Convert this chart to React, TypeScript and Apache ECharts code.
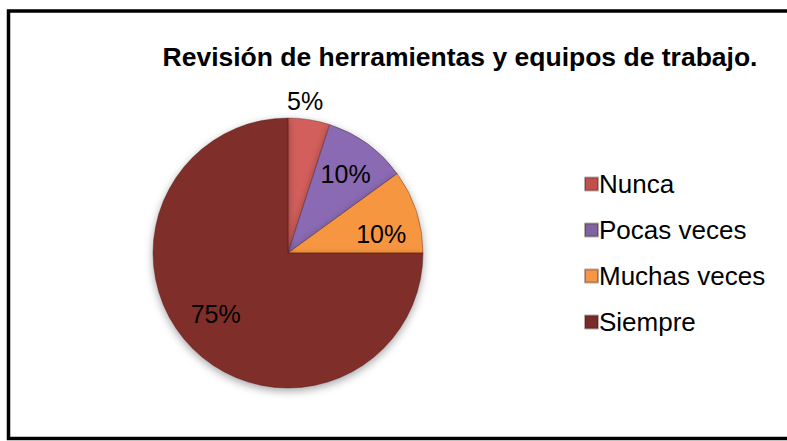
import React, { useEffect, useRef } from "react";
import * as echarts from "echarts";

const TITLE = "Revisión de herramientas y equipos de trabajo.";
const categories = ["Nunca", "Pocas veces", "Muchas veces", "Siempre"];
const values = [5, 10, 10, 75];
const colors = ["#D35F5B", "#8A6BB3", "#F7963F", "#7F2D2B"];
const legendColors = ["#C0504D", "#8064A2", "#F79646", "#772C2A"];

export default function App() {
  const ref = useRef<HTMLDivElement>(null);
  useEffect(() => {
    if (!ref.current) return;
    const chart = echarts.init(ref.current, undefined, { renderer: "svg" });
    const font = "Liberation Sans, Arial, sans-serif";
    const mainData = categories.map((name, i) => ({
      name,
      value: values[i],
      itemStyle: { color: colors[i] },
      label:
        i === 0
          ? { show: true, position: "outside", distance: 4, offset: [-28, -13] }
          : { show: false },
      labelLine: { show: false, length: 6, length2: 0 },
    }));
    const labelOffsets: Record<number, number[]> = { 2: [0, 11], 3: [-3, -8] };
    const ghostData = categories.map((name, i) => ({
      name,
      value: values[i],
      label:
        i === 0
          ? { show: false }
          : { show: true, position: "inside", offset: labelOffsets[i] || [0, 0] },
    }));
    chart.setOption({
      animation: false,
      backgroundColor: "#ffffff",
      title: {
        text: TITLE,
        left: 455,
        top: 38,
        textAlign: "center",
        textStyle: { fontFamily: font, fontSize: 26.5, fontWeight: "bold", color: "#000" },
      },
      legend: {
        orient: "vertical",
        left: 579,
        top: 165,
        itemWidth: 13,
        itemHeight: 13,
        itemGap: 18,
        icon: "rect",
        data: categories.map((name, i) => ({ name, itemStyle: { color: legendColors[i] } })),
        textStyle: { fontFamily: font, fontSize: 26, color: "#000", lineHeight: 28, padding: [0, 0, 0, -4] },
      },
      graphic: [
        {
          type: "rect",
          shape: { x: 8.5, y: 11, width: 820, height: 427.5 },
          style: { fill: "none", stroke: "#000", lineWidth: 3.5 },
          silent: true,
          z: 100,
        },
      ],
      series: [
        {
          type: "pie",
          center: [288, 253],
          radius: [0, 135],
          startAngle: 90,
          clockwise: true,
          data: mainData,
          label: { fontFamily: font, fontSize: 25, color: "#000", formatter: "{c}%" },
          itemStyle: {
            borderColor: "rgba(60,20,20,0.35)",
            borderWidth: 1,
            shadowBlur: 8,
            shadowColor: "rgba(0,0,0,0.35)",
            shadowOffsetY: 3,
          },
        },
        {
          type: "pie",
          center: [288, 253],
          radius: [0, 190],
          startAngle: 90,
          clockwise: true,
          silent: true,
          legendHoverLink: false,
          data: ghostData,
          itemStyle: { color: "rgba(0,0,0,0)", borderWidth: 0 },
          labelLine: { show: false },
          label: { fontFamily: font, fontSize: 25, color: "#000", formatter: "{c}%" },
          z: 3,
        },
      ],
    });
    return () => chart.dispose();
  }, []);
  return (
    <div
      ref={ref}
      style={{ position: "fixed", left: 0, top: 0, width: 787, height: 441, background: "#fff" }}
    />
  );
}
